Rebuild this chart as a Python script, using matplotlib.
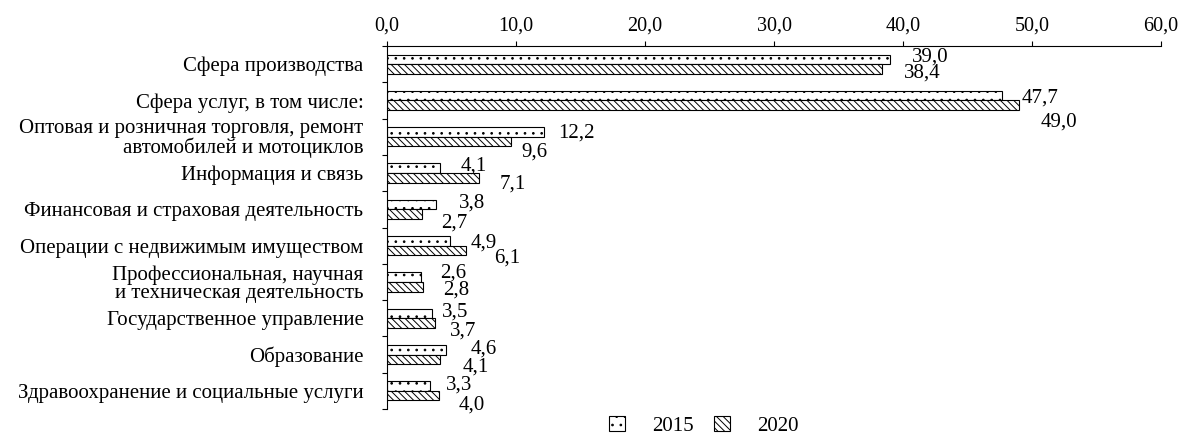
import matplotlib
matplotlib.use("Agg")
import matplotlib.pyplot as plt
import numpy as np

plt.rcParams['font.family'] = ['Liberation Serif', 'DejaVu Serif']
plt.rcParams['hatch.linewidth'] = 0.7

categories = [
    "Сфера производства",
    "Сфера услуг, в том числе:",
    "Оптовая и розничная торговля, ремонт\nавтомобилей и мотоциклов",
    "Информация и связь",
    "Финансовая и страховая деятельность",
    "Операции с недвижимым имуществом",
    "Профессиональная, научная\nи техническая деятельность",
    "Государственное управление",
    "Образование",
    "Здравоохранение и социальные услуги",
]
values_2015 = [39.0, 47.7, 12.2, 4.1, 3.8, 4.9, 2.6, 3.5, 4.6, 3.3]
values_2020 = [38.4, 49.0, 9.6, 7.1, 2.7, 6.1, 2.8, 3.7, 4.1, 4.0]
series_names = ["2015", "2020"]
x_ticks = [0, 10, 20, 30, 40, 50, 60]
x_tick_labels = ["0,0", "10,0", "20,0", "30,0", "40,0", "50,0", "60,0"]

# label offsets in pixels (dx, dy downwards)
off_2015 = [(22, -5), (19, 0), (14, -1), (21, -5), (23, -4), (20, 0), (20, -7), (10, -4), (24, -3), (16, -3)]
off_2020 = [(22, 2), (22, 14), (11, 8), (21, 4), (19, 6), (28, 5), (20, 1), (15, 5), (23, 5.5), (20, 7)]

FS = 14.5
FS_CAT = 15
fig = plt.figure(figsize=(11.87, 4.34), dpi=100)
ax = fig.add_axes([387/1187, 1-409/434, (1161-387)/1187, (409-46)/434])

y = np.arange(len(categories))
h = 0.265
b1 = ax.barh(y - h/2, values_2015, height=h, color='white', edgecolor='black',
             linewidth=0.8, hatch='..', label=series_names[0])
b2 = ax.barh(y + h/2, values_2020, height=h, color='white', edgecolor='black',
             linewidth=0.8, hatch='\\\\\\\\\\', label=series_names[1])

for i in range(len(categories)):
    for vals, offs, yy in ((values_2015, off_2015, y[i] - h/2), (values_2020, off_2020, y[i] + h/2)):
        v = vals[i]
        dx, dy = offs[i]
        ax.annotate(f"{v:.1f}".replace('.', ','), xy=(v, yy), xytext=(dx, -dy),
                    textcoords='offset pixels', ha='left', va='center_baseline',
                    fontsize=15)

ax.set_xlim(0, 60)
ax.set_ylim(len(categories) - 0.5, -0.5)
ax.xaxis.tick_top()
ax.set_xticks(x_ticks)
ax.set_xticklabels(x_tick_labels, fontsize=FS)
ax.tick_params(axis='x', direction='out', length=3.6, width=0.8, pad=4)

ax.set_yticks(y)
ax.set_yticklabels(categories, fontsize=FS_CAT, linespacing=0.95)
ax.set_yticks(np.arange(-0.5, len(categories) + 0.5, 1), minor=True)
ax.tick_params(axis='y', which='major', length=0, pad=17)
ax.tick_params(axis='y', which='minor', length=3.6, width=0.8, direction='out')

for s in ['right', 'bottom']:
    ax.spines[s].set_visible(False)
for s in ['top', 'left']:
    ax.spines[s].set_linewidth(0.8)

fig.legend(handles=[b1, b2], labels=series_names, loc='center',
           bbox_to_anchor=(704/1187, 1-426/434), ncol=2, frameon=False,
           fontsize=15, handlelength=0.75, handleheight=0.75,
           handletextpad=1.3, columnspacing=1.0, borderpad=0)

fig.savefig("out.png", dpi=100)
